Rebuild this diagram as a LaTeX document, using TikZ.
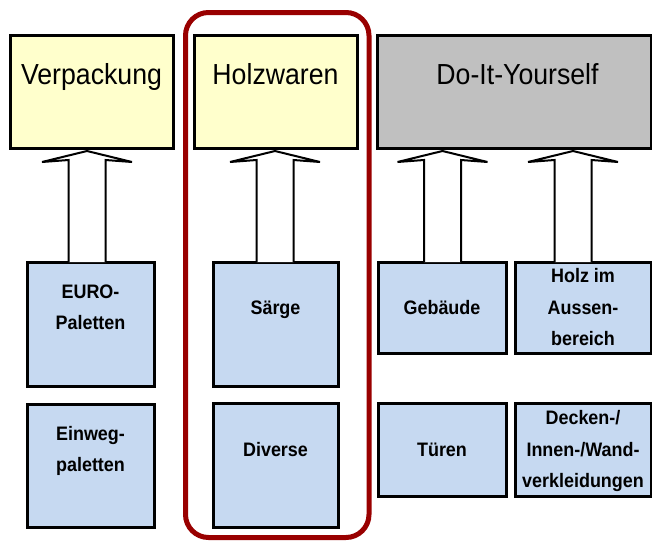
\documentclass[tikz,border=0pt]{standalone}
\usepackage{fontspec}
\setmainfont{Liberation Sans}
\newfontfamily\narrowsans[FakeStretch=0.92]{Liberation Sans}
\usetikzlibrary{calc}
\definecolor{hdryellow}{HTML}{FFFFCC}
\definecolor{hdrgray}{HTML}{C0C0C0}
\definecolor{boxblue}{HTML}{C6D9F1}
\definecolor{holzred}{HTML}{990000}
\newcommand\lnstrut{\rule[-7pt]{0pt}{27pt}}
\newcommand\blockarr[3]{%
  \draw[barrow] let \p1=(#1.north), \p2=(#2.south) in
    ({#3pt-18.5pt},{\y1}) -- ({#3pt-18.5pt},{\y2-12pt}) -- ({#3pt-45pt},{\y2-14pt})
    -- ({#3pt},{\y2-3pt}) -- ({#3pt+45pt},{\y2-14pt}) -- ({#3pt+18.5pt},{\y2-12pt})
    -- ({#3pt+18.5pt},{\y1});}
\begin{document}
\begin{tikzpicture}[x=1pt,y=-1pt,
  hdr/.style={draw=black, line width=3pt, outer sep=0pt, inner sep=0pt,
    text height=21pt, text depth=35pt, font=\narrowsans\fontsize{29}{34}\selectfont},
  sbox/.style={draw=black, line width=3pt, fill=boxblue, outer sep=0pt, inner sep=0pt},
  stext/.style={font=\narrowsans\bfseries\fontsize{19.5}{31.5}\selectfont, align=center, inner sep=0pt},
  barrow/.style={draw=black, line width=2pt, fill=white, line join=miter}
]
\useasboundingbox (0,0) rectangle (652,541);

% highlight frame
\draw[holzred, line width=5pt, rounded corners=23pt] (185.5,12.5) rectangle (369,537.5);

% header boxes
\node[hdr, fill=hdryellow, minimum width=163pt, minimum height=113pt] (verp) at (91.5,91.5) {Verpackung};
\node[hdr, fill=hdryellow, minimum width=163pt, minimum height=113pt] (holz) at (275.5,91.5) {Holzwaren};
\node[hdr, fill=hdrgray, minimum width=274pt, minimum height=113pt] (diy) at (514,91.5) {\hspace*{7pt}Do-It-Yourself};

% lower boxes
\node[sbox, minimum width=127pt, minimum height=124pt] (euro) at (90.5,324) {};
\node[sbox, minimum width=127pt, minimum height=123pt] (einweg) at (90.5,465.5) {};
\node[sbox, minimum width=125pt, minimum height=124pt] (saerge) at (275.5,324) {};
\node[sbox, minimum width=125pt, minimum height=124pt] (diverse) at (275.5,465) {};
\node[sbox, stext, minimum width=128pt, minimum height=91pt] (gebaeude) at (442,307.5) {\lnstrut Gebäude};
\node[sbox, stext, minimum width=136pt, minimum height=91pt] (aussen) at (583,307.5) {\lnstrut Holz im\\\lnstrut Aussen-\\\lnstrut bereich};
\node[sbox, stext, minimum width=128pt, minimum height=93pt] (tueren) at (442,449.5) {\lnstrut Türen};
\node[sbox, stext, minimum width=136pt, minimum height=93pt] (decken) at (583,449.5) {\lnstrut Decken-/\\\lnstrut Innen-/Wand-\\\lnstrut verkleidungen};

% texts of the tall boxes
\node[stext] (euroT) at (90.5,307.5) {\lnstrut EURO-\\\lnstrut Paletten};
\node[stext] (einwegT) at (90.5,449.5) {\lnstrut Einweg-\\\lnstrut paletten};
\node[stext] (saergeT) at (275.5,307.5) {\lnstrut Särge};
\node[stext] (diverseT) at (275.5,449.5) {\lnstrut Diverse};

% block arrows
\blockarr{euro}{verp}{87}
\blockarr{saerge}{holz}{275}
\blockarr{gebaeude}{diy}{442.5}
\blockarr{aussen}{diy}{573}
\end{tikzpicture}
\end{document}
